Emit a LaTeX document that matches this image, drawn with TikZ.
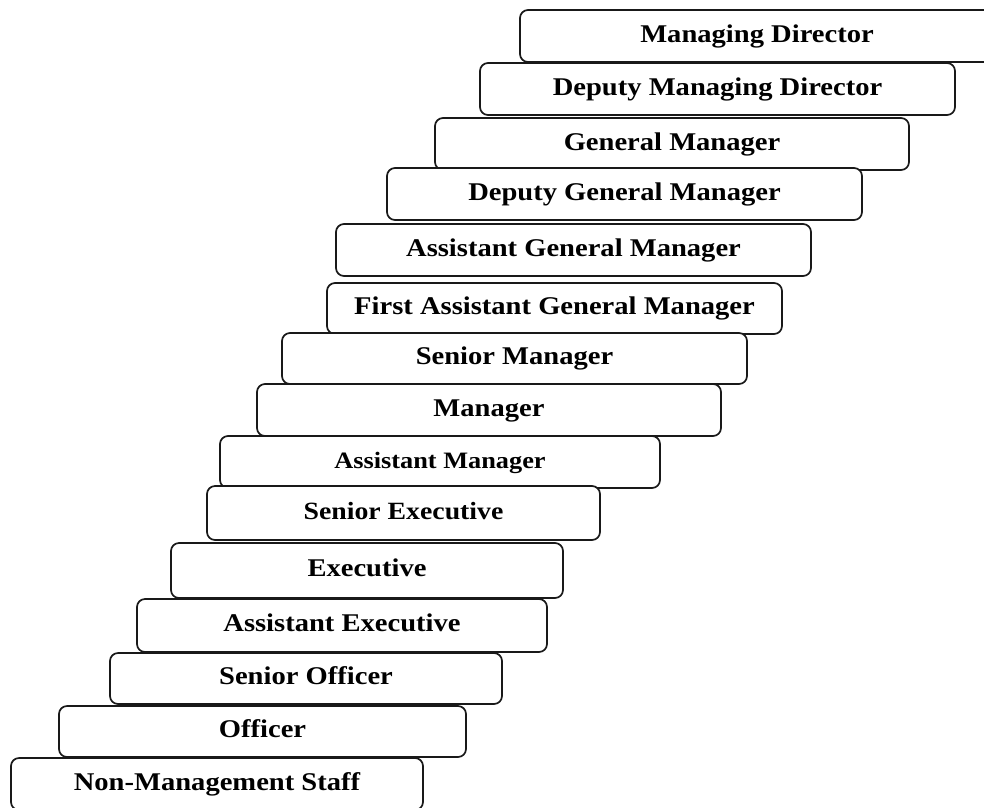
\documentclass[tikz,border=0pt]{standalone}
\usepackage{fontspec}
\usepackage{tikz}
\newfontfamily\rankfont{Liberation Serif}[FakeStretch=1.12]

\begin{document}
\begin{tikzpicture}[
	x=1pt, y=-1pt,
	% one rung of the ladder
	rankbox/.style={
		draw=black!90, line width=1.7pt, fill=white,
		rounded corners=8pt, inner sep=0pt, outer sep=0pt,
		text height=17pt, text depth=5pt,
		font=\rankfont\bfseries\fontsize{25.5}{30}\selectfont
	},
	% slightly smaller text
	smalltext/.style={font=\rankfont\bfseries\fontsize{23.5}{28}\selectfont}
	]
	\useasboundingbox (0,0) rectangle (984,807);

	% top of the ladder
	\node[rankbox, minimum width=474pt, minimum height=52pt] (md)   at (757,36)    {Managing Director};
	\node[rankbox, minimum width=475pt, minimum height=52pt] (dmd)  at (717.5,89)  {Deputy Managing Director};
	\node[rankbox, minimum width=474pt, minimum height=52pt] (gm)   at (672,144)   {General Manager};
	\node[rankbox, minimum width=475pt, minimum height=52pt] (dgm)  at (624.5,194) {Deputy General Manager};
	\node[rankbox, minimum width=475pt, minimum height=52pt] (agm)  at (573.5,250) {Assistant General Manager};
	\node[rankbox, minimum width=455pt, minimum height=51pt] (fagm) at (554.5,308.5) {First Assistant General Manager};

	% managers
	\node[rankbox, minimum width=465pt, minimum height=51pt] (sm)   at (514.5,358.5) {Senior Manager};
	\node[rankbox, minimum width=464pt, minimum height=52pt] (mgr)  at (489,410)   {Manager};
	\node[rankbox, smalltext, minimum width=440pt, minimum height=52pt] (am) at (440,462) {Assistant Manager};

	% executives
	\node[rankbox, minimum width=393pt, minimum height=54pt, font=\rankfont\bfseries\fontsize{24.8}{29}\selectfont] (se) at (403.5,513) {Senior Executive};
	\node[rankbox, minimum width=392pt, minimum height=55pt] (ex)   at (367,570.5) {Executive};
	\node[rankbox, minimum width=410pt, minimum height=53pt] (ae)   at (342,625.5) {Assistant Executive};

	% officers and staff
	\node[rankbox, minimum width=392pt, minimum height=51pt] (so)   at (306,678.5) {Senior Officer};
	\node[rankbox, minimum width=407pt, minimum height=51pt] (off)  at (262.5,731.5) {Officer};
	\node[rankbox, minimum width=412pt, minimum height=52pt] (nms)  at (217,784)   {Non-Management Staff};
\end{tikzpicture}
\end{document}
